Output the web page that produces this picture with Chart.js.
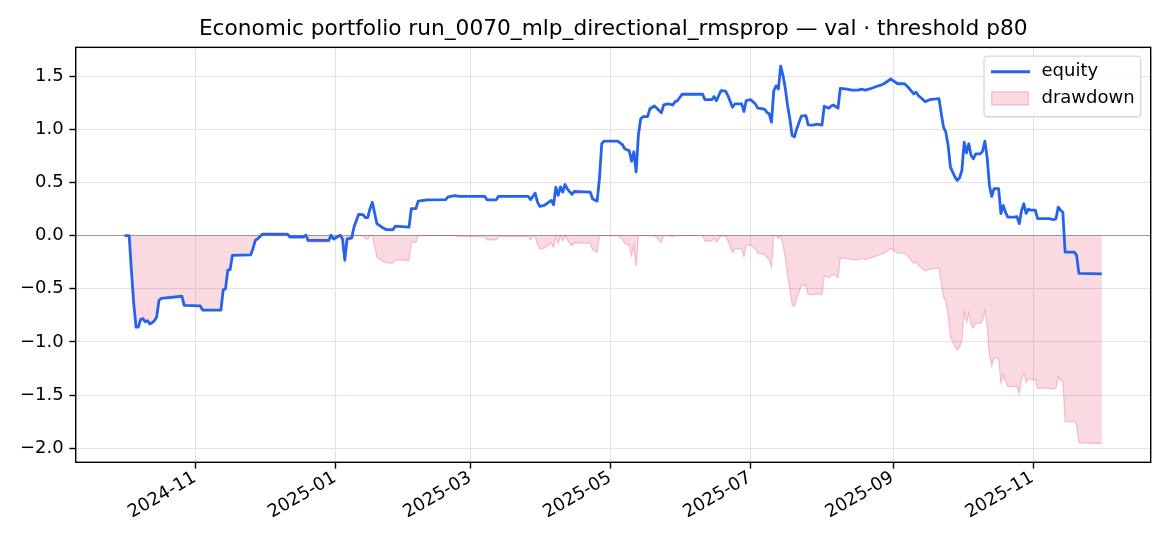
<!DOCTYPE html>
<html>
<head>
<meta charset="utf-8">
<script src="https://cdn.jsdelivr.net/npm/chart.js@4"></script>
<style>
  html, body { margin: 0; padding: 0; background: #fff; }
  #wrap { width: 1170px; height: 546px; }
</style>
</head>
<body>
<div id="wrap"><canvas id="c" width="1170" height="546"></canvas></div>
<script>
const titleText = 'Economic portfolio run_0070_mlp_directional_rmsprop \u2014 val \u00b7 threshold p80';
const seriesLabels = ['equity', 'drawdown'];

const dates = [
  '2024-10-01','2024-10-03','2024-10-04','2024-10-05','2024-10-06','2024-10-07','2024-10-08','2024-10-09',
  '2024-10-10','2024-10-11','2024-10-12','2024-10-13','2024-10-14','2024-10-15','2024-10-16','2024-10-17',
  '2024-10-19','2024-10-23','2024-10-26','2024-10-27','2024-11-03','2024-11-04','2024-11-12','2024-11-13',
  '2024-11-14','2024-11-15','2024-11-16','2024-11-17','2024-11-25','2024-11-26','2024-11-27','2024-11-28',
  '2024-11-30','2024-12-11','2024-12-12','2024-12-18','2024-12-19','2024-12-20','2024-12-29','2024-12-30',
  '2024-12-31','2025-01-01','2025-01-03','2025-01-04','2025-01-05','2025-01-06','2025-01-08','2025-01-09',
  '2025-01-11','2025-01-13','2025-01-14','2025-01-15','2025-01-16','2025-01-17','2025-01-19','2025-01-21',
  '2025-01-23','2025-01-26','2025-01-27','2025-02-02','2025-02-03','2025-02-05','2025-02-06','2025-02-10',
  '2025-02-18','2025-02-19','2025-02-22','2025-02-24','2025-03-07','2025-03-08','2025-03-12','2025-03-13',
  '2025-03-26','2025-03-27','2025-03-28','2025-03-29','2025-03-30','2025-03-31','2025-04-02','2025-04-05',
  '2025-04-06','2025-04-07','2025-04-08','2025-04-09','2025-04-10','2025-04-11','2025-04-12','2025-04-14',
  '2025-04-15','2025-04-22','2025-04-23','2025-04-25','2025-04-26','2025-04-27','2025-04-28','2025-05-04',
  '2025-05-06','2025-05-07','2025-05-08','2025-05-09','2025-05-10','2025-05-11','2025-05-12','2025-05-13',
  '2025-05-14','2025-05-15','2025-05-17','2025-05-18','2025-05-20','2025-05-21','2025-05-23','2025-05-24',
  '2025-05-26','2025-05-28','2025-05-29','2025-05-30','2025-06-01','2025-06-10','2025-06-11','2025-06-14',
  '2025-06-15','2025-06-16','2025-06-18','2025-06-20','2025-06-21','2025-06-23','2025-06-24','2025-06-27',
  '2025-06-28','2025-06-29','2025-07-01','2025-07-03','2025-07-04','2025-07-07','2025-07-08','2025-07-09',
  '2025-07-10','2025-07-11','2025-07-12','2025-07-13','2025-07-14','2025-07-15','2025-07-16','2025-07-17',
  '2025-07-18','2025-07-19','2025-07-20','2025-07-21','2025-07-23','2025-07-25','2025-07-26','2025-07-28',
  '2025-07-30','2025-08-01','2025-08-02','2025-08-04','2025-08-05','2025-08-06','2025-08-08','2025-08-09',
  '2025-08-12','2025-08-14','2025-08-17','2025-08-18','2025-08-20','2025-08-23','2025-08-25','2025-08-27',
  '2025-08-28','2025-08-29','2025-08-31','2025-09-01','2025-09-03','2025-09-06','2025-09-08','2025-09-10',
  '2025-09-11','2025-09-12','2025-09-13','2025-09-15','2025-09-17','2025-09-19','2025-09-21','2025-09-22',
  '2025-09-23','2025-09-24','2025-09-25','2025-09-26','2025-09-28','2025-09-29','2025-09-30','2025-10-01',
  '2025-10-02','2025-10-03','2025-10-04','2025-10-05','2025-10-06','2025-10-07','2025-10-09','2025-10-10',
  '2025-10-11','2025-10-12','2025-10-13','2025-10-14','2025-10-15','2025-10-17','2025-10-18','2025-10-19',
  '2025-10-20','2025-10-21','2025-10-24','2025-10-25','2025-10-26','2025-10-27','2025-10-28','2025-10-29',
  '2025-10-30','2025-10-31','2025-11-02','2025-11-03','2025-11-08','2025-11-10','2025-11-11','2025-11-12',
  '2025-11-13','2025-11-14','2025-11-15','2025-11-19','2025-11-20','2025-11-21','2025-12-01'
];

const equity = [
  0.00, 0.00, -0.33, -0.64, -0.86, -0.86, -0.79, -0.78,
  -0.81, -0.80, -0.83, -0.82, -0.80, -0.765, -0.61, -0.59,
  -0.585, -0.577, -0.57, -0.655, -0.66, -0.70, -0.70, -0.51,
  -0.50, -0.325, -0.32, -0.185, -0.18, -0.12, -0.045, -0.03,
  0.015, 0.015, -0.01, -0.01, 0.005, -0.045, -0.045, 0.005,
  -0.03, -0.02, 0.005, -0.03, -0.23, -0.03, -0.02, 0.08,
  0.20, 0.197, 0.17, 0.17, 0.254, 0.315, 0.113, 0.082,
  0.058, 0.056, 0.09, 0.08, 0.254, 0.254, 0.325, 0.338,
  0.34, 0.365, 0.378, 0.37, 0.37, 0.338, 0.338, 0.37,
  0.37, 0.34, 0.37, 0.40, 0.316, 0.275, 0.285, 0.332,
  0.29, 0.457, 0.38, 0.46, 0.41, 0.482, 0.44, 0.388,
  0.416, 0.41, 0.348, 0.325, 0.536, 0.865, 0.89, 0.89,
  0.858, 0.818, 0.808, 0.80, 0.70, 0.79, 0.60, 0.95,
  1.10, 1.12, 1.12, 1.194, 1.22, 1.20, 1.156, 1.23,
  1.24, 1.23, 1.262, 1.27, 1.331, 1.331, 1.28, 1.28,
  1.309, 1.27, 1.366, 1.36, 1.319, 1.209, 1.24, 1.24,
  1.168, 1.272, 1.28, 1.24, 1.20, 1.19, 1.16, 1.147,
  1.068, 1.366, 1.41, 1.38, 1.595, 1.51, 1.39, 1.225,
  1.10, 0.943, 0.93, 1.005, 1.125, 1.13, 1.043, 1.04,
  1.05, 1.04, 1.218, 1.20, 1.22, 1.23, 1.20, 1.387,
  1.38, 1.37, 1.37, 1.38, 1.37, 1.39, 1.406, 1.42,
  1.43, 1.444, 1.475, 1.46, 1.43, 1.43, 1.387, 1.334,
  1.35, 1.32, 1.30, 1.262, 1.28, 1.285, 1.29, 1.15,
  1.02, 0.974, 0.849, 0.645, 0.551, 0.52, 0.545, 0.614,
  0.88, 0.78, 0.865, 0.755, 0.724, 0.77, 0.77, 0.795,
  0.889, 0.739, 0.473, 0.369, 0.442, 0.442, 0.207, 0.285,
  0.222, 0.175, 0.175, 0.18, 0.113, 0.238, 0.30, 0.21,
  0.25, 0.24, 0.24, 0.16, 0.16, 0.15, 0.16, 0.269,
  0.24, 0.22, -0.154, -0.154, -0.185, -0.355, -0.36
];

const xTickLabels = ['2024-11','2025-01','2025-03','2025-05','2025-07','2025-09','2025-11'];
const yTickValues = [-2.0, -1.5, -1.0, -0.5, 0.0, 0.5, 1.0, 1.5];

// drawdown = equity minus its running peak
let peak = -Infinity;
const drawdown = equity.map(v => { peak = Math.max(peak, v); return v - peak; });

const toT = s => Date.parse(s + 'T00:00:00Z');
const times = dates.map(toT);

const xLo = times[0], xHi = times[times.length - 1];
const xPad = 0.05 * (xHi - xLo);
const allY = equity.concat(drawdown);
const yLo = Math.min(...allY), yHi = Math.max(...allY);
const yPad = 0.05 * (yHi - yLo);

const FONT = "'DejaVu Sans', 'Liberation Sans', sans-serif";
const BLUE = '#2563eb';
const PINK_FILL = 'rgba(225,29,72,0.17)';
const PINK_EDGE = 'rgba(225,29,72,0.24)';

// centre the title over the axes (as matplotlib does), not over the whole canvas
const titleCentrePlugin = {
  id: 'titleCentre',
  afterLayout(chart) {
    const t = chart.titleBlock;
    if (t) { t.left = chart.chartArea.left; t.right = chart.chartArea.right; t.width = t.right - t.left; }
  }
};

const spinePlugin = {
  id: 'spines',
  afterDraw(chart) {
    const { ctx, chartArea: a } = chart;
    ctx.save();
    ctx.strokeStyle = '#000';
    ctx.lineWidth = 1.4;
    ctx.strokeRect(a.left, a.top, a.right - a.left, a.bottom - a.top);
    ctx.restore();
  }
};

const legendPlugin = {
  id: 'mplLegend',
  afterDraw(chart) {
    const { ctx, chartArea: a } = chart;
    const w = 156.7, h = 60.7;
    const x0 = a.right - 10 - w, y0 = a.top + 8.7;
    const r = 3.6;
    ctx.save();
    ctx.beginPath();
    ctx.moveTo(x0 + r, y0);
    ctx.lineTo(x0 + w - r, y0);
    ctx.arcTo(x0 + w, y0, x0 + w, y0 + r, r);
    ctx.lineTo(x0 + w, y0 + h - r);
    ctx.arcTo(x0 + w, y0 + h, x0 + w - r, y0 + h, r);
    ctx.lineTo(x0 + r, y0 + h);
    ctx.arcTo(x0, y0 + h, x0, y0 + h - r, r);
    ctx.lineTo(x0, y0 + r);
    ctx.arcTo(x0, y0, x0 + r, y0, r);
    ctx.closePath();
    ctx.fillStyle = 'rgba(255,255,255,0.8)';
    ctx.fill();
    ctx.strokeStyle = '#d6d6d6';
    ctx.lineWidth = 1.3;
    ctx.stroke();

    const hx = x0 + 7, hw = 39;
    const row1 = y0 + 15.7, row2 = y0 + 42.3;
    ctx.strokeStyle = BLUE;
    ctx.lineWidth = 2.8;
    ctx.beginPath();
    ctx.moveTo(hx, row1);
    ctx.lineTo(hx + hw, row1);
    ctx.stroke();
    ctx.fillStyle = PINK_FILL;
    ctx.fillRect(hx + 0.7, row2 - 6.6, 36.6, 13.3);
    ctx.strokeStyle = PINK_EDGE;
    ctx.lineWidth = 1.2;
    ctx.strokeRect(hx + 0.7, row2 - 6.6, 36.6, 13.3);

    ctx.fillStyle = '#000';
    ctx.font = '18px ' + FONT;
    ctx.textAlign = 'left';
    ctx.textBaseline = 'middle';
    ctx.fillText(chart.data.datasets[0].label, x0 + 57.5, row1);
    ctx.fillText(chart.data.datasets[1].label, x0 + 57.5, row2);
    ctx.restore();
  }
};

new Chart(document.getElementById('c'), {
  type: 'line',
  data: {
    datasets: [
      {
        label: seriesLabels[0],
        data: times.map((t, i) => ({ x: t, y: equity[i] })),
        borderColor: BLUE,
        borderWidth: 2.8,
        borderJoinStyle: 'round',
        pointRadius: 0,
        tension: 0,
        fill: false
      },
      {
        label: seriesLabels[1],
        data: times.map((t, i) => ({ x: t, y: drawdown[i] })),
        borderColor: PINK_EDGE,
        backgroundColor: PINK_FILL,
        borderWidth: 1.2,
        pointRadius: 0,
        tension: 0,
        fill: 'origin'
      }
    ]
  },
  options: {
    responsive: false,
    animation: false,
    devicePixelRatio: 1,
    layout: { autoPadding: false, padding: { left: 0, right: 19.3, top: 0, bottom: 0 } },
    plugins: {
      legend: { display: false },
      tooltip: { enabled: false },
      title: {
        display: true,
        text: titleText,
        color: '#000',
        font: { family: FONT, size: 21.7, weight: 'normal' },
        padding: { top: 16.2, bottom: 5.1 }
      }
    },
    scales: {
      x: {
        type: 'linear',
        min: xLo - xPad,
        max: xHi + xPad,
        afterBuildTicks(scale) {
          scale.ticks = xTickLabels.map(l => ({ value: toT(l + '-01') }));
        },
        afterFit(scale) { scale.height = 83.7; },
        border: { display: false },
        grid: {
          color: '#e3e3e3',
          lineWidth: 1,
          tickColor: '#000',
          tickLength: 6.3,
          tickWidth: 1.4
        },
        ticks: {
          autoSkip: false,
          minRotation: 30,
          maxRotation: 30,
          padding: -1.5,
          labelOffset: -0.8,
          color: '#000',
          font: { family: FONT, size: 18 },
          callback: (v, i) => xTickLabels[i]
        }
      },
      y: {
        min: yLo - yPad,
        max: yHi + yPad,
        afterBuildTicks(scale) {
          scale.ticks = yTickValues.map(v => ({ value: v }));
        },
        afterFit(scale) { scale.width = 75.7; },
        border: { display: false },
        grid: {
          color: c => (c.tick && c.tick.value === 0) ? '#9a9a9a' : '#e3e3e3',
          lineWidth: 1,
          tickColor: '#000',
          tickLength: 6.3,
          tickWidth: 1.4
        },
        ticks: {
          padding: 5.7,
          color: '#000',
          font: { family: FONT, size: 18 },
          callback: v => v.toFixed(1).replace('-', '\u2212')
        }
      }
    }
  },
  plugins: [titleCentrePlugin, spinePlugin, legendPlugin]
});
</script>
</body>
</html>
